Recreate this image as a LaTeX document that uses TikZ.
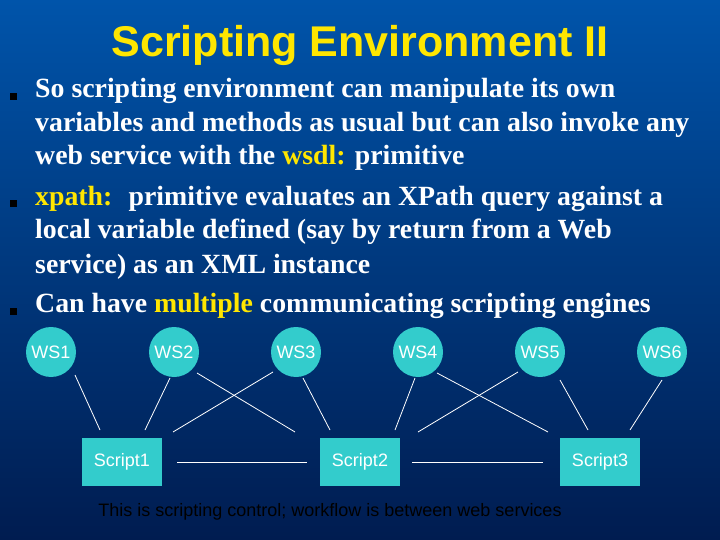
\documentclass[tikz,border=0pt]{standalone}
\usepackage{fontspec}
\usetikzlibrary{calc}
\setmainfont{Liberation Serif}
\newfontfamily\arial{Liberation Sans}
\definecolor{bgtop}{RGB}{0,84,170}
\definecolor{bgbot}{RGB}{0,28,80}
\definecolor{teal}{RGB}{51,204,204}
\definecolor{yel}{RGB}{255,230,0}
\tikzset{
  ws/.style={circle,fill=teal,minimum size=50pt,inner sep=0pt,font=\arial\fontsize{18}{20}\selectfont,text=white},
  sbox/.style={rectangle,fill=teal,minimum width=80pt,minimum height=48pt,font=\arial\fontsize{18}{20}\selectfont,text=white},
  link/.style={white,line width=0.8pt},
  bul/.style={fill=black,minimum size=7pt,inner sep=0pt},
  body/.style={anchor=base west,text=white,font=\bfseries\fontsize{27.8}{30}\selectfont,inner sep=0pt}
}
\begin{document}
\begin{tikzpicture}[x=1pt,y=-1pt]
\useasboundingbox (0,0) rectangle (720,540);
\shade[top color=bgtop,bottom color=bgbot] (0,0) rectangle (720,540);
\node (title) at (360,45) {\arial\bfseries\fontsize{43}{45}\selectfont\color{yel}Scripting Environment II};
\node[bul] (b1) at (13,97) {};
\node[bul] (b2) at (13,204) {};
\node[bul] (b3) at (13,311) {};
\node[body] (l1) at (35,98) {So scripting environment can manipulate its own};
\node[body] (l2) at (35,132) {variables and methods as usual but can also invoke any};
\node[body] (l3) at (35,165) {web service with the {\color{yel}wsdl:} primitive};
\node[body] (l4) at (35,206) {{\color{yel}xpath:} \ primitive evaluates an XPath query against a};
\node[body] (l5) at (35,239) {local variable defined (say by return from a Web};
\node[body] (l6) at (35,273) {service) as an XML instance};
\node[body] (l7) at (35,312) {Can have {\color{yel}multiple} communicating scripting engines};
\node[ws] (w1) at (51,352) {WS1};
\node[ws] (w2) at (174,352) {WS2};
\node[ws] (w3) at (296,352) {WS3};
\node[ws] (w4) at (418,352) {WS4};
\node[ws] (w5) at (540,352) {WS5};
\node[ws] (w6) at (662,352) {WS6};
\node[sbox] (s1) at (122,462) {Script1};
\node[sbox] (s2) at (360,462) {Script2};
\node[sbox] (s3) at (600,462) {Script3};
\draw[link] ($(w1)+(24,23)$) -- ($(w1)+(49,78)$);
\draw[link] ($(w2)+(-4,26)$) -- ($(w2)+(-29,78)$);
\draw[link] ($(w2)+(23,21)$) -- ($(w2)+(121,80)$);
\draw[link] ($(w3)+(-23,20)$) -- ($(w3)+(-123,80)$);
\draw[link] ($(w3)+(7,26)$) -- ($(w3)+(34,78)$);
\draw[link] ($(w4)+(-3,26)$) -- ($(w4)+(-23,78)$);
\draw[link] ($(w4)+(19,21)$) -- ($(w4)+(130,80)$);
\draw[link] ($(w5)+(-22,20)$) -- ($(w5)+(-122,80)$);
\draw[link] ($(w5)+(20,28)$) -- ($(w5)+(48,78)$);
\draw[link] ($(w6)+(0,28)$) -- ($(w6)+(-32,78)$);
\draw[link] ($(s1.east)+(15,0)$) -- ($(s2.west)+(-13,0)$);
\draw[link] ($(s2.east)+(12,0)$) -- ($(s3.west)+(-17,0)$);
\node (cap) at (330,512) {\arial\fontsize{18}{20}\selectfont This is scripting control; workflow is between web services};
\end{tikzpicture}
\end{document}
